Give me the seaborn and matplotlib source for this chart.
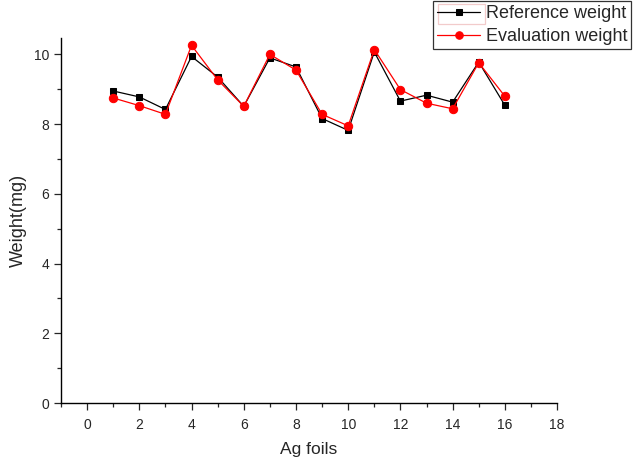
import matplotlib
matplotlib.use("Agg")
import matplotlib.pyplot as plt
import seaborn as sns
import pandas as pd
from matplotlib.ticker import MultipleLocator
from matplotlib.patches import Rectangle

# foil number and measured weights (mg)
foils = list(range(1, 17))
reference_weight = [8.95, 8.78, 8.42, 9.94, 9.35, 8.51, 9.90, 9.64,
                    8.16, 7.82, 10.07, 8.66, 8.83, 8.63, 9.78, 8.54]
evaluation_weight = [8.75, 8.53, 8.28, 10.26, 9.27, 8.51, 10.00, 9.55,
                     8.28, 7.95, 10.14, 8.99, 8.60, 8.44, 9.76, 8.80]

df = pd.DataFrame({"foil": foils,
                   "Reference weight": reference_weight,
                   "Evaluation weight": evaluation_weight})

sns.set_style("ticks")
plt.rcParams["font.family"] = ["Liberation Sans", "DejaVu Sans"]

fig = plt.figure(figsize=(6.36, 4.61), dpi=100)
ax = fig.add_axes([0.0959, 0.1258, 0.78, 0.791])

sns.lineplot(data=df, x="foil", y="Reference weight", ax=ax, color="black",
             marker="s", markersize=5, markeredgecolor="black", linewidth=0.9,
             label="Reference weight")
sns.lineplot(data=df, x="foil", y="Evaluation weight", ax=ax, color="red",
             marker="o", markersize=6, markeredgecolor="red", linewidth=0.9,
             label="Evaluation weight")

ax.set_xlim(-1, 18)
ax.set_ylim(0, 10.46)
ax.xaxis.set_major_locator(MultipleLocator(2))
ax.xaxis.set_minor_locator(MultipleLocator(1))
ax.yaxis.set_major_locator(MultipleLocator(2))
ax.yaxis.set_minor_locator(MultipleLocator(1))
ax.tick_params(which="major", length=5, width=0.9, labelsize=10, direction="out")
ax.tick_params(which="minor", length=3, width=0.9, direction="out")
ax.tick_params(axis="x", pad=6)
ax.set_xticks([0, 2, 4, 6, 8, 10, 12, 14, 16, 18])
for lab in ax.get_xticklabels() + ax.get_yticklabels():
    lab.set_family(["Liberation Sans Narrow", "Liberation Sans", "DejaVu Sans"])
sns.despine(ax=ax)
for s in ["left", "bottom"]:
    ax.spines[s].set_linewidth(1.0)
    ax.spines[s].set_color("black")

ax.set_xlabel("Ag foils", fontsize=12.5, labelpad=7)
ax.set_ylabel("Weight(mg)", fontsize=13, labelpad=5)

ax.legend_.remove()
handles, labels = ax.get_legend_handles_labels()
leg = fig.legend(handles, labels, loc="upper right", bbox_to_anchor=(0.992, 0.997),
                 fontsize=13, frameon=True, fancybox=False, edgecolor="black",
                 borderpad=0.2, handlelength=2.4, labelspacing=0.35, handletextpad=0.3,
                 borderaxespad=0.0, markerscale=0.9)
leg.get_frame().set_linewidth(0.9)

# red selection box around the first legend handle, as in the original
fig.add_artist(Rectangle((438 / 636, 1 - 24 / 461), 47 / 636, 20 / 461,
                         transform=fig.transFigure, fill=False,
                         edgecolor="#c00000", linewidth=0.9))

fig.savefig("out.png", dpi=100)
